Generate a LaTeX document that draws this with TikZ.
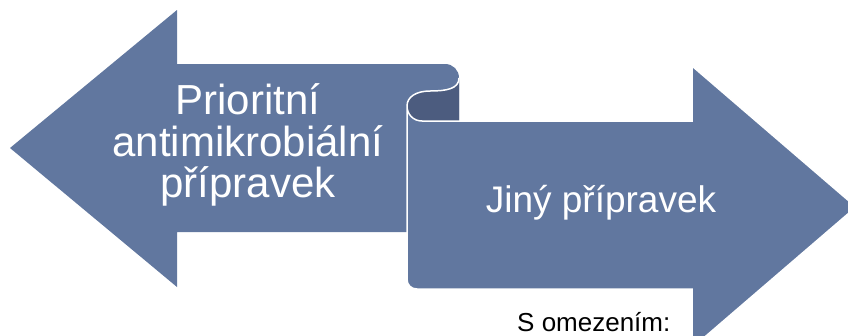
\documentclass[tikz,border=0pt]{standalone}
\usepackage{fontspec}
\setmainfont{Liberation Sans}
\definecolor{arrowblue}{HTML}{61779F}
\definecolor{curldark}{HTML}{4C5C7F}
\begin{document}
\begin{tikzpicture}[x=1pt,y=-1pt]
      \useasboundingbox (0,0) rectangle (848,335);
      \clip (0,0) rectangle (848,335);

      % Left arrow with rolled end
      \fill[arrowblue] (10,148) -- (177,10) -- (177,64) -- (445,64)
        .. controls (453,64) and (459,70) .. (459,78) -- (459,232)
        -- (177,232) -- (177,287) -- cycle;

      % Inside of the curl
      \fill[curldark] (459,78) .. controls (459,89) and (446,91) .. (430,91)
        .. controls (416,91) and (407,97) .. (407,106)
        .. controls (407,114) and (413,121) .. (422,121) -- (459,121) -- cycle;

      % Right arrow
      \fill[arrowblue, draw=white, line width=1.5pt] (407,106)
        .. controls (407,114) and (413,121) .. (422,121) -- (692,121)
        -- (692,66) -- (856,207) -- (692,348) -- (692,289) -- (417,289)
        .. controls (411,289) and (407,285) .. (407,279) -- cycle;

      % Edge of the curl
      \draw[white, line width=1.5pt] (459,78) .. controls (459,89) and (446,91) .. (430,91)
        .. controls (416,91) and (407,97) .. (407,106);

      % Labels
      \node[text=white, font=\fontsize{42}{41.5}\selectfont, align=center, inner sep=0pt]
        (prior) at (248,145) {Prioritní\\antimikrobiální\\přípravek};
      \node[text=white, font=\fontsize{37}{40}\selectfont, anchor=base, inner sep=0pt]
        (jiny) at (601,212) {Jiný přípravek};
      \node[font=\fontsize{26}{28}\selectfont, anchor=base west, inner sep=0pt]
        (omez) at (517,331) {S omezením:};
\end{tikzpicture}
\end{document}
